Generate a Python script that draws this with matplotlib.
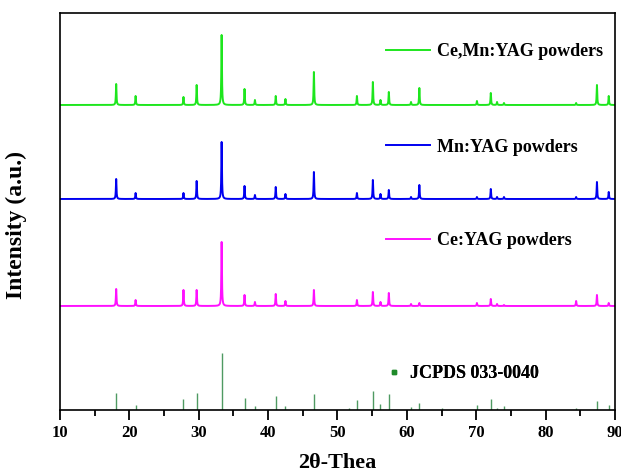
import numpy as np
import matplotlib.pyplot as plt
from matplotlib.lines import Line2D
from matplotlib.ticker import MultipleLocator

plt.rcParams['font.family'] = ['Liberation Serif', 'DejaVu Serif']
plt.rcParams['font.weight'] = 'bold'

# diffraction peaks (2theta) and relative heights for each sample
peaks = [18.1, 20.9, 27.8, 29.7, 33.3, 36.6, 38.1, 41.1, 42.5, 46.6, 52.8, 55.1,
         56.2, 57.4, 60.6, 61.8, 70.1, 72.1, 73.0, 74.0, 84.4, 87.4, 89.1]
ce_mn = [21, 9, 8, 20, 70, 16, 5, 9, 6, 33, 9, 23, 5, 13, 3, 17, 4, 12, 3, 2, 2, 20, 9]
mn = [20, 6, 6, 18, 57, 13, 4, 12, 5, 27, 6, 19, 5, 9, 2, 14, 2, 10, 2, 2, 2, 17, 7]
ce = [17, 6, 16, 16, 64, 11, 4, 12, 5, 16, 6, 14, 4, 13, 2, 3, 3, 7, 2, 1, 5, 11, 3]

# standard card JCPDS 033-0040
card_pos = [18.1, 20.9, 27.8, 29.7, 33.3, 36.6, 38.1, 41.1, 42.5, 46.6, 51.6, 52.8,
            55.1, 56.2, 57.4, 60.6, 61.8, 65.0, 70.1, 72.1, 73.0, 74.0, 84.4, 87.4, 89.2]
card_int = [17, 5, 11, 17, 57, 12, 4, 14, 4, 16, 2, 10,
            19, 6, 16, 3, 7, 2, 5, 11, 2, 4, 2, 9, 5]

# vertical offsets of the stacked patterns
offsets = {'ce_mn': 305, 'mn': 211, 'ce': 104}

tt = np.arange(10, 90.001, 0.02)


def pattern(heights, base):
    y = np.full_like(tt, base, dtype=float)
    for p, h in zip(peaks, heights):
        y += h / (1 + ((tt - p) / 0.05) ** 2)
    return y


fig = plt.figure(figsize=(6.21, 4.76), dpi=100)
ax = fig.add_axes([0.0966, 0.1387, 0.8937, 0.834])

l1, = ax.plot(tt, pattern(ce_mn, offsets['ce_mn']), color='#1ee61e', lw=1.4)
l2, = ax.plot(tt, pattern(mn, offsets['mn']), color='#0000f0', lw=1.4)
l3, = ax.plot(tt, pattern(ce, offsets['ce']), color='#ff10ff', lw=1.4)
ax.vlines(card_pos, 0, card_int, color='#4f9a62', lw=1.0)

ax.set_xlim(10, 90)
ax.set_ylim(0, 397)
ax.set_yticks([])
ax.xaxis.set_major_locator(MultipleLocator(10))
ax.xaxis.set_minor_locator(MultipleLocator(5))
ax.tick_params(axis='x', which='major', direction='out', length=7, width=1.3,
               labelsize=12, pad=3.5)
ax.tick_params(axis='x', which='minor', direction='out', length=4, width=1.3)
for s in ax.spines.values():
    s.set_linewidth(1.2)

ax.set_xlabel('2θ-Thea', fontsize=16, fontweight='bold', labelpad=9)
ax.set_ylabel('Intensity (a.u.)', fontsize=17, fontweight='bold')
ax.yaxis.set_label_coords(-0.06, 0.465)

card_handle = Line2D([], [], ls='none', marker='s', ms=2.5, color='#1f8a2a')
entries = [(l1, 'Ce,Mn:YAG powders', 0.902, 2.45),
           (l2, 'Mn:YAG powders', 0.662, 2.45),
           (l3, 'Ce:YAG powders', 0.426, 2.45),
           (card_handle, 'JCPDS 033-0040', 0.091, 0.95)]
for h, lab, yy, hl in entries:
    leg = ax.legend([h], [lab], loc='center left', bbox_to_anchor=(0.587, yy),
                    frameon=False, borderpad=0, borderaxespad=0,
                    handlelength=hl, handletextpad=0.4,
                    prop={'size': 13, 'weight': 'bold'})
    ax.add_artist(leg)

fig.savefig('out.png', dpi=100)
